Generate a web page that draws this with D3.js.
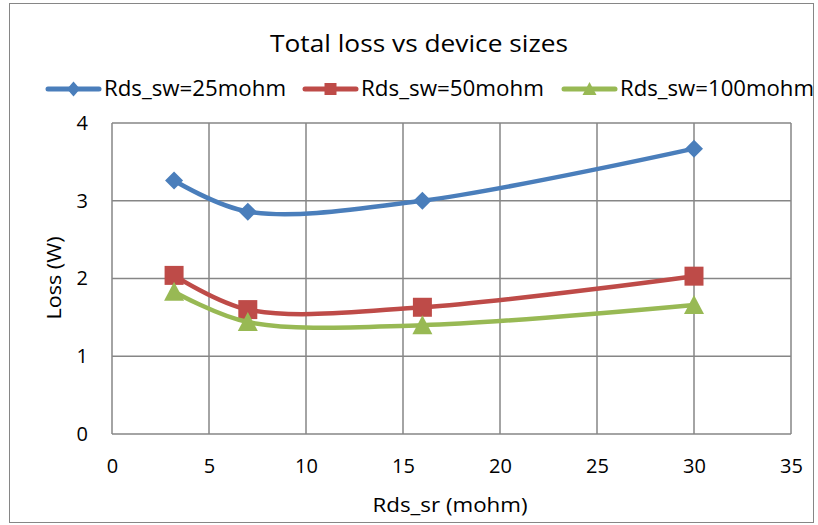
<!DOCTYPE html>
<html>
<head>
<meta charset="utf-8">
<title>Total loss vs device sizes</title>
<script src="https://cdnjs.cloudflare.com/ajax/libs/d3/7.8.5/d3.min.js"></script>
<style>
  body { margin: 0; background: #fff; }
  text { font-family: "Open Sans", Lato, sans-serif; fill: #000; }
</style>
</head>
<body>
<div id="chart"></div>
<script>
// data
var rdsSr = [3.2, 7, 16, 30];
var sw25 = [3.26, 2.86, 3.00, 3.67];
var sw50 = [2.04, 1.60, 1.63, 2.03];
var sw100 = [1.83, 1.44, 1.40, 1.66];
var seriesNames = ["Rds_sw=25mohm", "Rds_sw=50mohm", "Rds_sw=100mohm"];
var xTicks = [0, 5, 10, 15, 20, 25, 30, 35];
var yTicks = [0, 1, 2, 3, 4];

var W = 818, H = 525;
var margin = {top: 123, right: 27, bottom: 91, left: 112};
var width = W - margin.left - margin.right,
    height = H - margin.top - margin.bottom;

var svg = d3.select("#chart").append("svg")
    .attr("width", W).attr("height", H);

// outer chart border
svg.append("rect")
    .attr("x", 9.5).attr("y", 3.5)
    .attr("width", 804).attr("height", 519)
    .attr("fill", "#fff").attr("stroke", "#868686").attr("stroke-width", 1);

var g = svg.append("g")
    .attr("transform", "translate(" + margin.left + "," + margin.top + ")");

var x = d3.scaleLinear().domain([0, 35]).range([0, width]);
var y = d3.scaleLinear().domain([0, 4]).range([height, 0]);

// grid
g.append("g").selectAll("line").data(xTicks).enter().append("line")
    .attr("x1", d => x(d)).attr("x2", d => x(d))
    .attr("y1", 0).attr("y2", height)
    .attr("stroke", "#868686").attr("stroke-width", 1.5);
g.append("g").selectAll("line").data(yTicks).enter().append("line")
    .attr("x1", 0).attr("x2", width)
    .attr("y1", d => y(d)).attr("y2", d => y(d))
    .attr("stroke", "#868686").attr("stroke-width", 1.5);

// axes (labels only, Excel style)
var xAxis = g.append("g")
    .attr("transform", "translate(0," + height + ")")
    .call(d3.axisBottom(x).tickValues(xTicks).tickFormat(d3.format("d")).tickSize(0).tickPadding(25));
var yAxis = g.append("g")
    .call(d3.axisLeft(y).tickValues(yTicks).tickFormat(d3.format("d")).tickSize(0).tickPadding(24));
[xAxis, yAxis].forEach(function (a) {
    a.select(".domain").remove();
    a.attr("font-size", 20).attr("font-family", "'Open Sans', sans-serif");
    a.selectAll("text").attr("fill", "#000");
});

var series = [
    {name: seriesNames[0], values: sw25, color: "#4A7EBB", symbol: "diamond"},
    {name: seriesNames[1], values: sw50, color: "#BE4B48", symbol: "square"},
    {name: seriesNames[2], values: sw100, color: "#98B954", symbol: "triangle"}
];

var line = d3.line()
    .x((d, i) => x(rdsSr[i]))
    .y(d => y(d))
    .curve(d3.curveCatmullRom.alpha(0.5));

var symbolPath = {
    diamond: "M0,-9L9,0L0,9L-9,0Z",
    square: "M-9.5,-9.5H9.5V9.5H-9.5Z",
    triangle: "M0,-10L10,9L-10,9Z"
};
var legendSymbol = {
    diamond: "M0,-7.5L6.5,0L0,7.5L-6.5,0Z",
    square: "M-6,-6H6V6H-6Z",
    triangle: "M0,-7L7,6L-7,6Z"
};

series.forEach(function (s) {
    g.append("path")
        .datum(s.values)
        .attr("fill", "none")
        .attr("stroke", s.color)
        .attr("stroke-width", 4.5)
        .attr("stroke-linecap", "round")
        .attr("d", line);
    g.append("g").selectAll("path").data(s.values).enter().append("path")
        .attr("transform", (d, i) => "translate(" + x(rdsSr[i]) + "," + y(d) + ")")
        .attr("d", symbolPath[s.symbol])
        .attr("fill", s.color);
});

// title
svg.append("text")
    .attr("x", 419).attr("y", 52)
    .attr("text-anchor", "middle")
    .attr("textLength", 298).attr("lengthAdjust", "spacingAndGlyphs")
    .style("font-size", "23px")
    .text("Total loss vs device sizes");

// legend
var legendX = [46, 303, 562];
var legendW = [182, 183, 194];
series.forEach(function (s, i) {
    var lg = svg.append("g").attr("transform", "translate(" + legendX[i] + ",89)");
    lg.append("line").attr("x1", 2).attr("x2", 53)
        .attr("stroke", s.color).attr("stroke-width", 5)
        .attr("stroke-linecap", "round");
    lg.append("path").attr("transform", "translate(27.5,0)")
        .attr("d", legendSymbol[s.symbol]).attr("fill", s.color);
    lg.append("text").attr("x", 58).attr("y", 7)
        .attr("textLength", legendW[i]).attr("lengthAdjust", "spacingAndGlyphs")
        .style("font-size", "21px")
        .text(s.name);
});

// axis titles
svg.append("text")
    .attr("x", 450).attr("y", 512)
    .attr("text-anchor", "middle")
    .attr("textLength", 155).attr("lengthAdjust", "spacingAndGlyphs")
    .style("font-size", "20px")
    .text("Rds_sr (mohm)");
svg.append("text")
    .attr("transform", "translate(61," + 278 + ") rotate(-90)")
    .attr("text-anchor", "middle")
    .attr("textLength", 83).attr("lengthAdjust", "spacingAndGlyphs")
    .style("font-size", "20px")
    .text("Loss (W)");
</script>
</body>
</html>
